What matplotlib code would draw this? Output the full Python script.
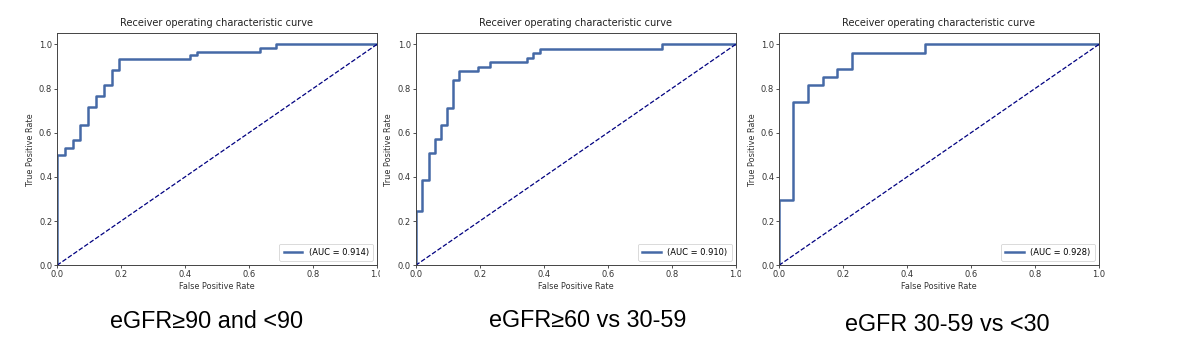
import matplotlib
matplotlib.use("Agg")
import matplotlib.pyplot as plt
from matplotlib.patches import Rectangle

# ---- data ----
fpr_1 = [0.0, 0.0, 0.024, 0.024, 0.049, 0.049, 0.073, 0.073, 0.098, 0.098, 0.122, 0.122,
         0.146, 0.146, 0.171, 0.171, 0.195, 0.195, 0.415, 0.415, 0.439, 0.439, 0.634, 0.634,
         0.683, 0.683, 1.0]
tpr_1 = [0.0, 0.500, 0.500, 0.533, 0.533, 0.567, 0.567, 0.633, 0.633, 0.717, 0.717, 0.767,
         0.767, 0.817, 0.817, 0.883, 0.883, 0.933, 0.933, 0.950, 0.950, 0.967, 0.967, 0.983,
         0.983, 1.0, 1.0]
auc_1 = 0.914

fpr_2 = [0.0, 0.0, 0.019, 0.019, 0.040, 0.040, 0.060, 0.060, 0.080, 0.080, 0.099, 0.099,
         0.118, 0.118, 0.136, 0.136, 0.194, 0.194, 0.232, 0.232, 0.347, 0.347, 0.367, 0.367,
         0.387, 0.387, 0.771, 0.771, 1.0]
tpr_2 = [0.0, 0.245, 0.245, 0.388, 0.388, 0.510, 0.510, 0.571, 0.571, 0.633, 0.633, 0.714,
         0.714, 0.837, 0.837, 0.878, 0.878, 0.898, 0.898, 0.918, 0.918, 0.939, 0.939, 0.959,
         0.959, 0.980, 0.980, 1.0, 1.0]
auc_2 = 0.910

fpr_3 = [0.0, 0.0, 0.045, 0.045, 0.091, 0.091, 0.136, 0.136, 0.182, 0.182, 0.227, 0.227,
         0.455, 0.455, 1.0]
tpr_3 = [0.0, 0.296, 0.296, 0.741, 0.741, 0.815, 0.815, 0.852, 0.852, 0.889, 0.889, 0.963,
         0.963, 1.0, 1.0]
auc_3 = 0.928

captions = ["eGFR\u226590 and <90", "eGFR\u226560 vs 30-59", "eGFR 30-59 vs <30"]
title = "Receiver operating characteristic curve"
ticks = [0.0, 0.2, 0.4, 0.6, 0.8, 1.0]

panels = [(fpr_1, tpr_1, auc_1), (fpr_2, tpr_2, auc_2), (fpr_3, tpr_3, auc_3)]

# ---- layout ----
W, H = 1181, 349
fig = plt.figure(figsize=(W / 100, H / 100), dpi=100)

lefts_px = [57, 415.7, 779]
ax_w_px = 320
top_px, bottom_px = 33.3, 265.3
curve_color = "#4569a6"
txt_color = "#333333"

for i, (lp, (fx, ty, auc)) in enumerate(zip(lefts_px, panels)):
    ax = fig.add_axes([lp / W, (H - bottom_px) / H, ax_w_px / W, (bottom_px - top_px) / H])
    ax.plot(fx, ty, color=curve_color, lw=1.8, label="(AUC = %0.3f)" % auc)
    ax.plot([0, 1], [0, 1], color="navy", lw=0.9, linestyle="--")
    ax.set_xlim(0.0, 1.0)
    ax.set_ylim(0.0, 1.05)
    ax.set_xticks(ticks)
    ax.set_yticks(ticks)
    ax.tick_params(labelsize=6.0, length=2, width=0.6, pad=1.5, colors=txt_color)
    ax.set_xlabel("False Positive Rate", fontsize=5.9, labelpad=2, color=txt_color)
    ax.set_ylabel("True Positive Rate", fontsize=5.9, labelpad=3, color=txt_color)
    ax.set_title(title, fontsize=7.0, pad=5, color="#222222")
    for s in ax.spines.values():
        s.set_linewidth(0.7)
        s.set_color("#444444")
    leg = ax.legend(loc="lower right", fontsize=6.0, handlelength=2.2, borderpad=0.5,
                    framealpha=1.0, fancybox=True)
    leg.get_frame().set_linewidth(0.5)

# the reference images are cropped: the last x tick label of panels 1 and 2 is cut
for x0, x1 in [(380, 400), (740.5, 760)]:
    fig.add_artist(Rectangle((x0 / W, 1 - 282 / H), (x1 - x0) / W, 14 / H,
                             transform=fig.transFigure, facecolor="white",
                             edgecolor="none", zorder=10))

cap_pos = [(207, 328.3), (588, 326.6), (947, 330.7)]
for (cx, cy), txt in zip(cap_pos, captions):
    fig.text(cx / W, 1 - cy / H, txt, ha="center", va="baseline", fontsize=16.8,
             family=["Liberation Sans", "DejaVu Sans"], color="black")

fig.savefig("out.png", dpi=100)
